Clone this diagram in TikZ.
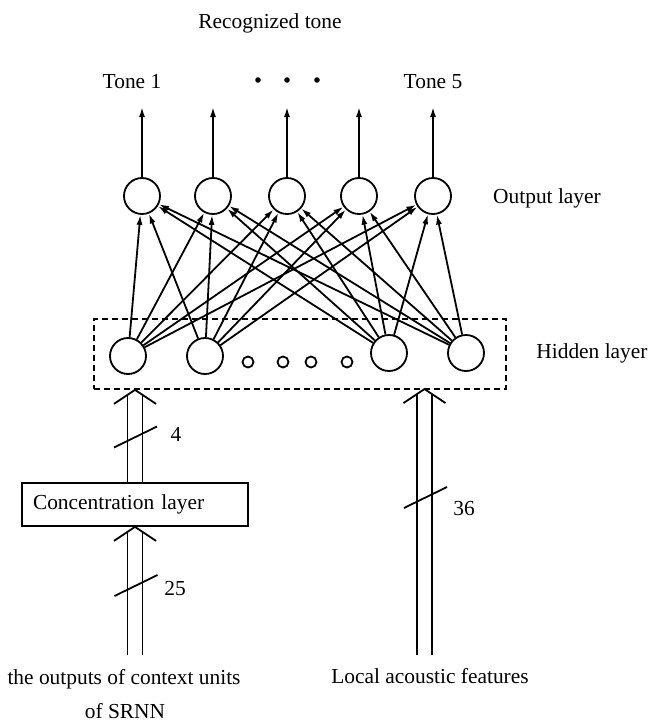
\documentclass[tikz,border=0pt]{standalone}
\usepackage{fontspec}
\setmainfont{Liberation Serif}
\usetikzlibrary{arrows.meta,calc}
\newcommand\dblup[2]{%
  \draw ($(#1)+(-7.5,0)$) -- ($(#2)+(-7.5,5)$);
  \draw ($(#1)+(7.5,0)$) -- ($(#2)+(7.5,5)$);
  \draw ($(#2)+(-21,14)$) -- (#2) -- ($(#2)+(21,14)$);}
\newcommand\busmark[1]{%
  \draw ($(#1)+(-21.5,10.5)$) -- ($(#1)+(21.5,-10.5)$);}
\begin{document}
\begin{tikzpicture}[x=0.5pt,y=-0.5pt,line width=0.9pt,
  every node/.style={font=\fontsize{10.7}{12.8}\selectfont},
  neuron/.style={circle,draw,minimum size=18pt,inner sep=0pt},
  smallunit/.style={circle,draw,minimum size=5.5pt,inner sep=0pt},
  conn/.style={-{Latex[length=5pt,width=3pt]}},
  txt/.style={inner sep=0pt},
  dotmark/.style={circle,fill,inner sep=0pt,minimum size=2.8pt},
  hidbox/.style={draw,dash pattern=on 3pt off 2pt,minimum width=206pt,minimum height=35pt,inner sep=0pt},
  concbox/.style={draw,text width=102pt,align=left,inner xsep=5.5pt,minimum height=21.5pt,inner ysep=0pt}]
\useasboundingbox (0,0) rectangle (650,724);

% titles
\node[txt] (title) at (270,23) {Recognized tone};
\node[txt] (tone1) at (132,82) {Tone 1};
\node[txt] (tone5) at (433,82) {Tone 5};
\node[dotmark] (d1) at (258,80) {};
\node[dotmark] (d2) at (287,80) {};
\node[dotmark] (d3) at (317,80) {};

% output layer
\foreach \i/\x in {1/142,2/213,3/287,4/359,5/433}{
  \node[neuron] (o\i) at (\x,196) {};
  \coordinate (t\i) at (\x,107);
  \draw[conn] (o\i) -- (t\i);
}
\node[txt] (outlbl) at (547,198) {Output layer};

% hidden layer
\node[hidbox] (hbox) at (300,354) {};
\node[neuron] (h1) at (128,356) {};
\node[neuron] (h2) at (205,356) {};
\node[neuron] (h3) at (389,353) {};
\node[neuron] (h4) at (466,353) {};
\node[smallunit] (s1) at (248,362) {};
\node[smallunit] (s2) at (283,362) {};
\node[smallunit] (s3) at (311,362) {};
\node[smallunit] (s4) at (347,362) {};
\node[txt] (hidlbl) at (592,353) {Hidden layer};

\foreach \h in {1,2,3,4}{
  \foreach \o in {1,2,3,4,5}{
    \draw[conn] (h\h) -- (o\o);
  }
}

% concentration layer
\node[concbox] (conc) at (135,504.5) {Concentration layer};

% double arrows
\coordinate (tipL) at (conc.north |- hbox.south);
\dblup{conc.north}{tipL}
\coordinate (baseL) at (135,655);
\dblup{baseL}{conc.south}
\coordinate (tipR) at (424.5,389);
\coordinate (baseR) at (424.5,655);
\dblup{baseR}{tipR}

% bus width marks
\coordinate (m1) at (135.5,437);
\coordinate (m2) at (136,585.5);
\coordinate (m3) at (425.5,497.5);
\busmark{m1}
\busmark{m2}
\busmark{m3}
\node[txt] (n4) at (176,434) {4};
\node[txt] (n25) at (175,589) {25};
\node[txt] (n36) at (464,509) {36};

% bottom labels
\node[txt] (inL1) at (124,679) {the outputs of context units};
\node[txt] (inL2) at (125,711) {of SRNN};
\node[txt] (inR) at (430,676) {Local acoustic features};
\end{tikzpicture}
\end{document}
